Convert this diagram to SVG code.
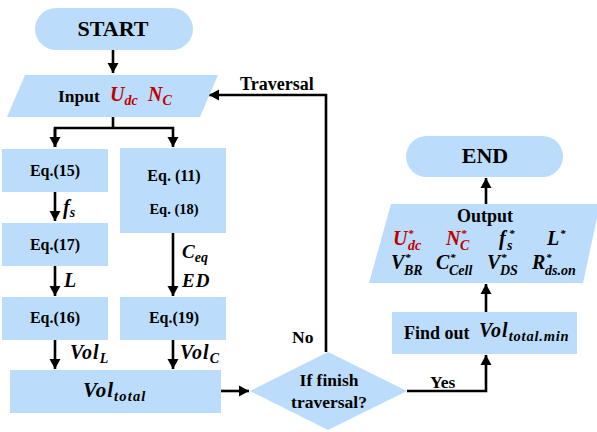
<svg xmlns="http://www.w3.org/2000/svg" width="597" height="432" viewBox="0 0 597 432">
<style>
.sh{fill:#BBDDFB;stroke:none}
.t{font-family:'Liberation Serif','Times New Roman',serif;font-weight:bold;fill:#000}
.m{font-family:'Liberation Serif','Times New Roman',serif;font-weight:bold;font-style:italic;fill:#000}
.r{fill:#C00000}
.c{fill:none;stroke:#000;stroke-width:2.6}
</style>
<defs>
<marker id="ah" markerUnits="userSpaceOnUse" markerWidth="12" markerHeight="12" refX="10" refY="6" orient="auto">
<path d="M0,0.5 L10,6 L0,11.5 Z" fill="#000"/>
</marker>
</defs>
<rect width="597" height="432" fill="#fff"/>
<g id="connectors">
<line class="c" x1="113" y1="50" x2="113" y2="73" marker-end="url(#ah)"/>
<polyline class="c" points="113,117 113,128"/>
<polyline class="c" points="55,147 55,128 173,128 173,147" marker-end="url(#ah)"/>
<line class="c" x1="55" y1="129" x2="55" y2="147" marker-end="url(#ah)"/>
<line class="c" x1="55" y1="192" x2="55" y2="221" marker-end="url(#ah)"/>
<line class="c" x1="55" y1="266" x2="55" y2="296" marker-end="url(#ah)"/>
<line class="c" x1="55" y1="340" x2="55" y2="369" marker-end="url(#ah)"/>
<line class="c" x1="173" y1="233" x2="173" y2="296" marker-end="url(#ah)"/>
<line class="c" x1="173" y1="340" x2="173" y2="369" marker-end="url(#ah)"/>
<line class="c" x1="221" y1="391" x2="249" y2="391" marker-end="url(#ah)"/>
<polyline class="c" points="326,352 326,95 209,95" marker-end="url(#ah)"/>
<polyline class="c" points="407,391 486,391 486,355" marker-end="url(#ah)"/>
<line class="c" x1="486" y1="312" x2="486" y2="284" marker-end="url(#ah)"/>
<line class="c" x1="486" y1="204" x2="486" y2="178" marker-end="url(#ah)"/>
<text class="t" x="240" y="90" font-size="18">Traversal</text>
<text class="t" x="292" y="343" font-size="17.5">No</text>
<text class="t" x="430" y="388" font-size="17.5">Yes</text>
<text class="m" x="63" y="214" font-size="20">f<tspan font-size="14" dy="3">s</tspan></text>
<text class="m" x="64" y="287" font-size="20">L</text>
<text class="m" x="182" y="258" font-size="19">C<tspan font-size="14" dy="4">eq</tspan></text>
<text class="m" x="182" y="287" font-size="19" letter-spacing="1">ED</text>
<text class="m" x="70" y="359" font-size="20" letter-spacing="1">Vol<tspan font-size="14" dy="4">L</tspan></text>
<text class="m" x="180" y="359" font-size="20" letter-spacing="1">Vol<tspan font-size="14" dy="4">C</tspan></text>
</g>
<g id="start">
<rect class="sh" x="35" y="8" width="158" height="42" rx="21"/>
<text class="t" x="113" y="36" font-size="22" text-anchor="middle">START</text>
</g>
<g id="input">
<polygon class="sh" points="25,75 218,75 200,117 7,117"/>
<text class="t" x="58" y="102" font-size="17.5">Input</text>
<text class="m r" x="110" y="101" font-size="20">U<tspan font-size="14" dy="4">dc</tspan></text>
<text class="m r" x="148" y="101" font-size="20">N<tspan font-size="14" dy="4">C</tspan></text>
</g>
<g id="eq15">
<rect class="sh" x="2" y="149" width="106" height="43"/>
<text class="t" x="55" y="176" font-size="16" text-anchor="middle">Eq.(15)</text>
</g>
<g id="eq11_18">
<rect class="sh" x="120" y="148" width="106" height="85"/>
<text class="t" x="174" y="181" font-size="16" text-anchor="middle">Eq. (11)</text>
<text class="t" x="174" y="214" font-size="14.5" text-anchor="middle">Eq. (18)</text>
</g>
<g id="eq17">
<rect class="sh" x="2" y="223" width="106" height="43"/>
<text class="t" x="55" y="250" font-size="16" text-anchor="middle">Eq.(17)</text>
</g>
<g id="eq16">
<rect class="sh" x="2" y="297" width="106" height="43"/>
<text class="t" x="55" y="323" font-size="16" text-anchor="middle">Eq.(16)</text>
</g>
<g id="eq19">
<rect class="sh" x="120" y="297" width="106" height="43"/>
<text class="t" x="174" y="323" font-size="16" text-anchor="middle">Eq.(19)</text>
</g>
<g id="voltotal">
<rect class="sh" x="10" y="370" width="211" height="43"/>
<text class="m" x="83" y="397" font-size="21" letter-spacing="1">Vol<tspan font-size="14.5" dy="4" letter-spacing="1.2">total</tspan></text>
</g>
<g id="decision">
<polygon class="sh" points="328,352 407,391 328,430 250,391"/>
<text class="t" x="329" y="386" font-size="17.5" text-anchor="middle">If finish</text>
<text class="t" x="329" y="408" font-size="17.5" text-anchor="middle">traversal?</text>
</g>
<g id="findout">
<rect class="sh" x="392" y="312" width="185" height="42"/>
<text class="t" x="404" y="339" font-size="18">Find out</text>
<text class="m" x="479" y="337" font-size="20" letter-spacing="1">Vol<tspan font-size="14.5" dy="4" letter-spacing="0.8">total.min</tspan></text>
</g>
<g id="output">
<polygon class="sh" points="391,204 600,204 583,283 369,283"/>
<text class="t" x="485" y="222" font-size="18" text-anchor="middle">Output</text>
<g class="m r">
<text x="393" y="245" font-size="20">U</text><text x="408" y="237" font-size="11">*</text><text x="408" y="250" font-size="14">dc</text>
<text x="446" y="245" font-size="20">N</text><text x="461" y="237" font-size="11">*</text><text x="460" y="250" font-size="14">C</text>
</g>
<g class="m">
<text x="499" y="245" font-size="20">f</text><text x="509" y="237" font-size="11">*</text><text x="507" y="250" font-size="14">s</text>
<text x="547" y="245" font-size="20">L</text><text x="560" y="237" font-size="11">*</text>
<text x="391" y="269" font-size="20">V</text><text x="405" y="261" font-size="11">*</text><text x="404" y="275" font-size="14">BR</text>
<text x="436" y="269" font-size="20">C</text><text x="450" y="261" font-size="11">*</text><text x="449" y="275" font-size="14">Cell</text>
<text x="487" y="269" font-size="20">V</text><text x="501" y="261" font-size="11">*</text><text x="500" y="275" font-size="14">DS</text>
<text x="532" y="269" font-size="20">R</text><text x="546" y="261" font-size="11">*</text><text x="545" y="275" font-size="14">ds.on</text>
</g>
</g>
<g id="end">
<rect class="sh" x="406" y="136" width="157" height="41" rx="20.5"/>
<text class="t" x="485" y="163" font-size="22" text-anchor="middle">END</text>
</g>
</svg>
